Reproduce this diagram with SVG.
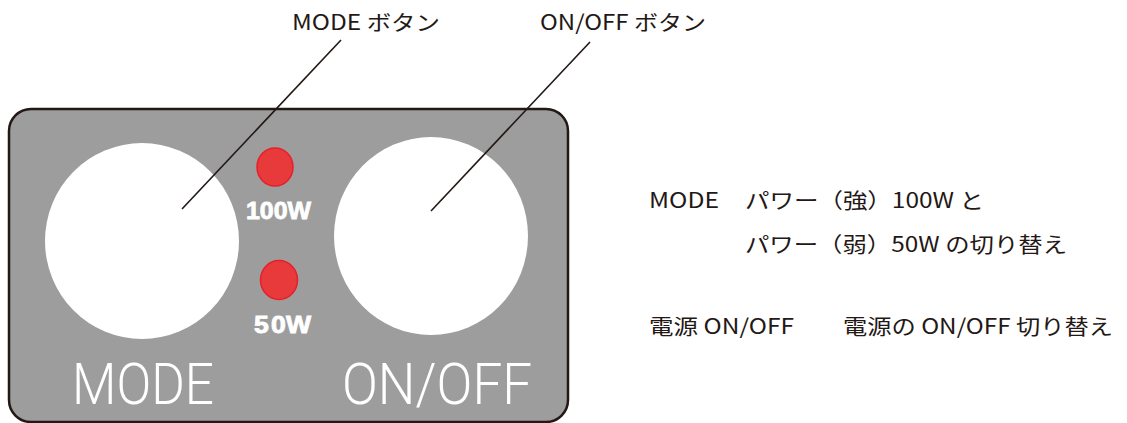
<svg xmlns="http://www.w3.org/2000/svg" width="1127" height="423" viewBox="0 0 1127 423">
<style>
.lbl{font-family:"Noto Sans CJK JP","Noto Sans",sans-serif;font-size:21px;fill:#231815}
.big{font-family:Roboto,"Noto Sans",sans-serif;font-weight:300;font-size:58px;fill:#ffffff}
.watt{font-family:"Liberation Sans",Arial,sans-serif;font-weight:bold;font-size:23px;fill:#ffffff;stroke:#ffffff;stroke-width:0.8}
.btn{fill:#ffffff}
.led{fill:#e83a3a;stroke:#e5202a;stroke-width:1.5}
.lead{stroke:#231815;stroke-width:1.6;fill:none}
</style>
<rect width="1127" height="423" fill="#ffffff"/>
<g id="panel">
<rect x="9" y="109" width="559" height="313" rx="22" ry="22" fill="#9d9d9d" stroke="#231815" stroke-width="2.5"/>
<text class="big" x="72" y="404" textLength="142" lengthAdjust="spacingAndGlyphs">MODE</text>
<text class="big" x="342" y="404" textLength="190" lengthAdjust="spacingAndGlyphs">ON/OFF</text>
</g>
<g id="mode-button">
<ellipse class="btn" cx="142" cy="241" rx="97" ry="98"/>
</g>
<g id="onoff-button">
<ellipse class="btn" cx="431" cy="236" rx="97" ry="99"/>
</g>
<g id="led-100w">
<ellipse class="led" cx="275" cy="167" rx="18" ry="19"/>
<text class="watt" x="246" y="218.5" textLength="65" lengthAdjust="spacingAndGlyphs">100W</text>
</g>
<g id="led-50w">
<ellipse class="led" cx="279" cy="280" rx="18.5" ry="19.5"/>
<text class="watt" x="254" y="333" textLength="57" lengthAdjust="spacingAndGlyphs">5<tspan dx="2">0W</tspan></text>
</g>
<g id="connectors">
<line class="lead" x1="182" y1="209" x2="341" y2="40"/>
<line class="lead" x1="431" y1="211" x2="590" y2="42"/>
</g>
<g id="label-mode-button">
<text class="lbl" x="292" y="30" textLength="148" lengthAdjust="spacingAndGlyphs">MODE ボタン</text>
</g>
<g id="label-onoff-button">
<text class="lbl" x="540" y="30" textLength="166" lengthAdjust="spacingAndGlyphs">ON/OFF ボタン</text>
</g>
<g id="desc-mode">
<text class="lbl" x="649" y="208" textLength="70" lengthAdjust="spacingAndGlyphs">MODE</text>
<text class="lbl" x="745" y="208" textLength="239" lengthAdjust="spacingAndGlyphs">パワー（強）100W と</text>
<text class="lbl" x="745" y="252" textLength="322" lengthAdjust="spacingAndGlyphs">パワー（弱）50W の切り替え</text>
</g>
<g id="desc-power">
<text class="lbl" x="649" y="334" textLength="145" lengthAdjust="spacingAndGlyphs">電源 ON/OFF</text>
<text class="lbl" x="843" y="334" textLength="270" lengthAdjust="spacingAndGlyphs">電源の ON/OFF 切り替え</text>
</g>
</svg>
